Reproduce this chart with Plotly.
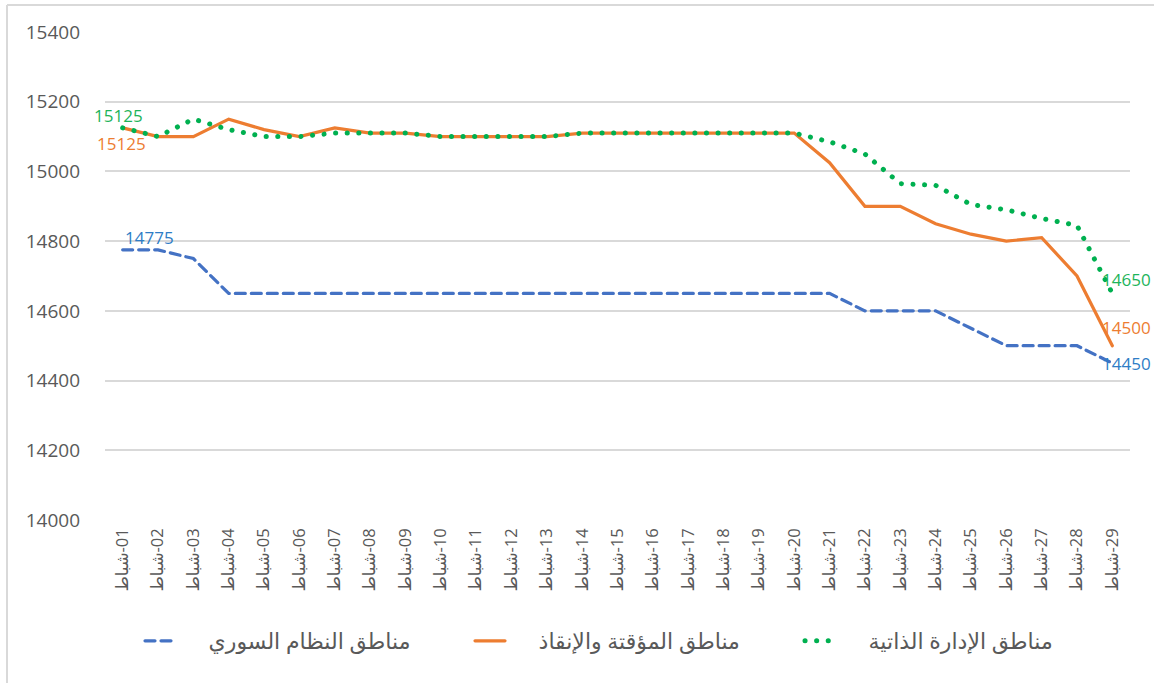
import plotly.graph_objects as go

days = ["01", "02", "03", "04", "05", "06", "07", "08", "09", "10", "11", "12", "13", "14", "15",
        "16", "17", "18", "19", "20", "21", "22", "23", "24", "25", "26", "27", "28", "29"]
month = "شباط"
LRM = "\u200e"
categories = [f"{month}{LRM}-{d}" for d in days]

name_regime = "مناطق النظام السوري"
name_interim = "مناطق المؤقتة والإنقاذ"
name_admin = "مناطق الإدارة الذاتية"

regime = [14775, 14775, 14750, 14650, 14650, 14650, 14650, 14650, 14650, 14650, 14650, 14650, 14650, 14650, 14650,
          14650, 14650, 14650, 14650, 14650, 14650, 14600, 14600, 14600, 14550, 14500, 14500, 14500, 14450]
interim = [15125, 15100, 15100, 15150, 15120, 15100, 15125, 15110, 15110, 15100, 15100, 15100, 15100, 15110, 15110,
           15110, 15110, 15110, 15110, 15110, 15025, 14900, 14900, 14850, 14820, 14800, 14810, 14700, 14500]
admin = [15125, 15100, 15150, 15120, 15100, 15100, 15110, 15110, 15110, 15100, 15100, 15100, 15100, 15110, 15110,
         15110, 15110, 15110, 15110, 15110, 15085, 15050, 14965, 14960, 14905, 14890, 14865, 14845, 14650]

y_ticks = [14000, 14200, 14400, 14600, 14800, 15000, 15200, 15400]

c_blue = "#4472C4"
c_orange = "#ED7D31"
c_green = "#00B050"
grey = "#595959"
font_family = "Open Sans, DejaVu Sans, sans-serif"

W, H = 1154, 683
L, R, T, B = 105, 24, 32, 163
pw, ph = W - L - R, H - T - B

pad = "\u00a0" * 5

fig = go.Figure()
fig.add_trace(go.Scatter(x=categories, y=regime, name=pad + name_regime, mode="lines",
                         line=dict(color=c_blue, width=3.2, dash="10px,6px")))
fig.add_trace(go.Scatter(x=categories, y=interim, name=pad + name_interim, mode="lines",
                         line=dict(color=c_orange, width=3.2)))
fig.add_trace(go.Scatter(x=categories, y=admin, name=pad + name_admin, mode="lines",
                         line=dict(color=c_green, width=5, dash="0.1px,11.5px")))

def lab(x, y, text, color, dx, dy):
    fig.add_annotation(x=x, y=y, text=text, showarrow=True, arrowcolor="rgba(0,0,0,0)",
                       ax=dx, ay=dy, font=dict(color=color, size=17, family=font_family))

lab(categories[0], admin[0], str(admin[0]), "#1DB45A", -4, -12)
lab(categories[0], interim[0], str(interim[0]), c_orange, -1, 16)
lab(categories[0], regime[0], str(regime[0]), "#2E7DC6", 27, -12)
lab(categories[-1], admin[-1], str(admin[-1]), "#1DB45A", 14, -14)
lab(categories[-1], interim[-1], str(interim[-1]), c_orange, 14, -18)
lab(categories[-1], regime[-1], str(regime[-1]), "#2E7DC6", 14, 0)

def px_x(x):
    return (x - L) / pw

def px_y(y):
    return (H - B - y) / ph

fig.update_layout(
    width=W, height=H,
    margin=dict(l=L, r=R, t=T, b=B),
    paper_bgcolor="white", plot_bgcolor="white",
    font=dict(family=font_family, color=grey),
    showlegend=True,
    legend=dict(orientation="h", x=px_x(140), xanchor="left", y=px_y(641), yanchor="middle",
                font=dict(size=22, color=grey), entrywidth=285, entrywidthmode="pixels",
                traceorder="normal"),
    xaxis=dict(type="category", range=[-0.5, 28.5], showgrid=False, zeroline=False,
               tickangle=-90, tickfont=dict(size=16.5, color=grey), ticks="", showline=False,
               ticklabelstandoff=4),
    yaxis=dict(range=[14000, 15400], tickvals=y_ticks, ticktext=[str(v) for v in y_ticks],
               showgrid=True, gridcolor="#D9D9D9", gridwidth=1.5, zeroline=False,
               tickfont=dict(size=19, color=grey), ticklabelstandoff=24, showline=False),
)
# outer border (top and left edges, as in the reference)
fig.add_shape(type="line", xref="paper", yref="paper",
              x0=px_x(7), x1=px_x(1160), y0=px_y(5), y1=px_y(5),
              line=dict(color="#D9D9D9", width=2))
fig.add_shape(type="line", xref="paper", yref="paper",
              x0=px_x(7), x1=px_x(7), y0=px_y(5), y1=px_y(690),
              line=dict(color="#D9D9D9", width=2))

post = """
document.body.style.margin = '0';
document.body.style.padding = '0';
var paths = document.querySelectorAll('.scatterlayer .trace path.js-line');
paths.forEach(function(p){ p.style.strokeLinecap = 'round'; });
var lp = document.querySelectorAll('.legend .legendlines path');
lp.forEach(function(p){ p.style.strokeLinecap = 'round'; });
"""
fig.write_html("out.html", post_script=post, config={"displayModeBar": False})
